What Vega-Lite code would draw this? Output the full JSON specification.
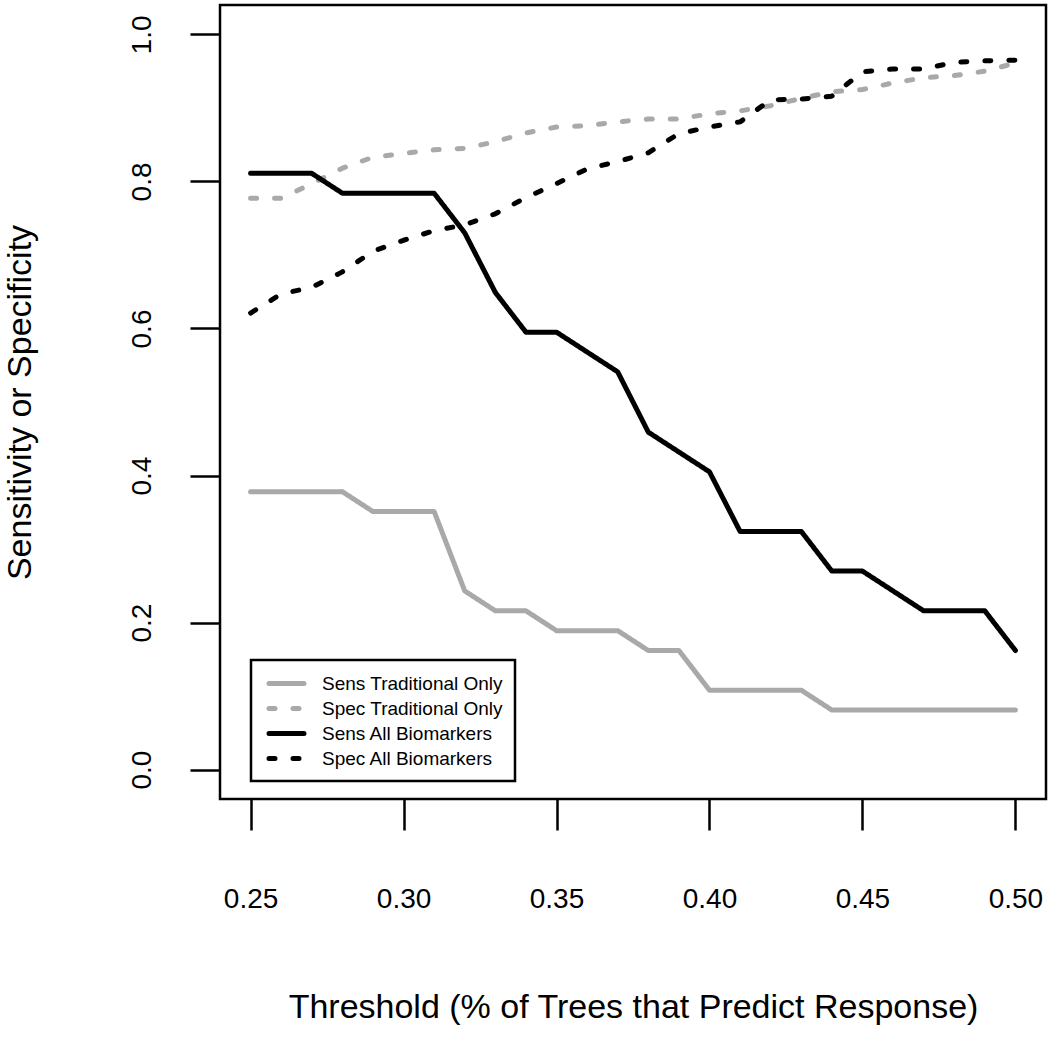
{
  "$schema": "https://vega.github.io/schema/vega-lite/v6.json",
  "width": 826,
  "height": 794,
  "autosize": {"type": "none"},
  "padding": {"left": 220, "top": 5, "right": 4, "bottom": 238},
  "background": "white",
  "datasets": {
    "rows": [
      {"t":0.25,"series":"Sens Traditional Only","value":0.378},
      {"t":0.26,"series":"Sens Traditional Only","value":0.378},
      {"t":0.27,"series":"Sens Traditional Only","value":0.378},
      {"t":0.28,"series":"Sens Traditional Only","value":0.378},
      {"t":0.29,"series":"Sens Traditional Only","value":0.351},
      {"t":0.30,"series":"Sens Traditional Only","value":0.351},
      {"t":0.31,"series":"Sens Traditional Only","value":0.351},
      {"t":0.32,"series":"Sens Traditional Only","value":0.243},
      {"t":0.33,"series":"Sens Traditional Only","value":0.216},
      {"t":0.34,"series":"Sens Traditional Only","value":0.216},
      {"t":0.35,"series":"Sens Traditional Only","value":0.189},
      {"t":0.36,"series":"Sens Traditional Only","value":0.189},
      {"t":0.37,"series":"Sens Traditional Only","value":0.189},
      {"t":0.38,"series":"Sens Traditional Only","value":0.162},
      {"t":0.39,"series":"Sens Traditional Only","value":0.162},
      {"t":0.40,"series":"Sens Traditional Only","value":0.108},
      {"t":0.41,"series":"Sens Traditional Only","value":0.108},
      {"t":0.42,"series":"Sens Traditional Only","value":0.108},
      {"t":0.43,"series":"Sens Traditional Only","value":0.108},
      {"t":0.44,"series":"Sens Traditional Only","value":0.081},
      {"t":0.45,"series":"Sens Traditional Only","value":0.081},
      {"t":0.46,"series":"Sens Traditional Only","value":0.081},
      {"t":0.47,"series":"Sens Traditional Only","value":0.081},
      {"t":0.48,"series":"Sens Traditional Only","value":0.081},
      {"t":0.49,"series":"Sens Traditional Only","value":0.081},
      {"t":0.50,"series":"Sens Traditional Only","value":0.081},

      {"t":0.25,"series":"Spec Traditional Only","value":0.777},
      {"t":0.26,"series":"Spec Traditional Only","value":0.777},
      {"t":0.27,"series":"Spec Traditional Only","value":0.797},
      {"t":0.28,"series":"Spec Traditional Only","value":0.818},
      {"t":0.29,"series":"Spec Traditional Only","value":0.833},
      {"t":0.30,"series":"Spec Traditional Only","value":0.838},
      {"t":0.31,"series":"Spec Traditional Only","value":0.843},
      {"t":0.32,"series":"Spec Traditional Only","value":0.845},
      {"t":0.33,"series":"Spec Traditional Only","value":0.854},
      {"t":0.34,"series":"Spec Traditional Only","value":0.866},
      {"t":0.35,"series":"Spec Traditional Only","value":0.874},
      {"t":0.36,"series":"Spec Traditional Only","value":0.876},
      {"t":0.37,"series":"Spec Traditional Only","value":0.881},
      {"t":0.38,"series":"Spec Traditional Only","value":0.885},
      {"t":0.39,"series":"Spec Traditional Only","value":0.885},
      {"t":0.40,"series":"Spec Traditional Only","value":0.892},
      {"t":0.41,"series":"Spec Traditional Only","value":0.896},
      {"t":0.42,"series":"Spec Traditional Only","value":0.903},
      {"t":0.43,"series":"Spec Traditional Only","value":0.913},
      {"t":0.44,"series":"Spec Traditional Only","value":0.922},
      {"t":0.45,"series":"Spec Traditional Only","value":0.925},
      {"t":0.46,"series":"Spec Traditional Only","value":0.934},
      {"t":0.47,"series":"Spec Traditional Only","value":0.941},
      {"t":0.48,"series":"Spec Traditional Only","value":0.944},
      {"t":0.49,"series":"Spec Traditional Only","value":0.950},
      {"t":0.50,"series":"Spec Traditional Only","value":0.961},

      {"t":0.25,"series":"Sens All Biomarkers","value":0.811},
      {"t":0.26,"series":"Sens All Biomarkers","value":0.811},
      {"t":0.27,"series":"Sens All Biomarkers","value":0.811},
      {"t":0.28,"series":"Sens All Biomarkers","value":0.784},
      {"t":0.29,"series":"Sens All Biomarkers","value":0.784},
      {"t":0.30,"series":"Sens All Biomarkers","value":0.784},
      {"t":0.31,"series":"Sens All Biomarkers","value":0.784},
      {"t":0.32,"series":"Sens All Biomarkers","value":0.730},
      {"t":0.33,"series":"Sens All Biomarkers","value":0.649},
      {"t":0.34,"series":"Sens All Biomarkers","value":0.595},
      {"t":0.35,"series":"Sens All Biomarkers","value":0.595},
      {"t":0.36,"series":"Sens All Biomarkers","value":0.568},
      {"t":0.37,"series":"Sens All Biomarkers","value":0.541},
      {"t":0.38,"series":"Sens All Biomarkers","value":0.459},
      {"t":0.39,"series":"Sens All Biomarkers","value":0.432},
      {"t":0.40,"series":"Sens All Biomarkers","value":0.405},
      {"t":0.41,"series":"Sens All Biomarkers","value":0.324},
      {"t":0.42,"series":"Sens All Biomarkers","value":0.324},
      {"t":0.43,"series":"Sens All Biomarkers","value":0.324},
      {"t":0.44,"series":"Sens All Biomarkers","value":0.270},
      {"t":0.45,"series":"Sens All Biomarkers","value":0.270},
      {"t":0.46,"series":"Sens All Biomarkers","value":0.243},
      {"t":0.47,"series":"Sens All Biomarkers","value":0.216},
      {"t":0.48,"series":"Sens All Biomarkers","value":0.216},
      {"t":0.49,"series":"Sens All Biomarkers","value":0.216},
      {"t":0.50,"series":"Sens All Biomarkers","value":0.162},

      {"t":0.25,"series":"Spec All Biomarkers","value":0.621},
      {"t":0.26,"series":"Spec All Biomarkers","value":0.647},
      {"t":0.27,"series":"Spec All Biomarkers","value":0.656},
      {"t":0.28,"series":"Spec All Biomarkers","value":0.677},
      {"t":0.29,"series":"Spec All Biomarkers","value":0.705},
      {"t":0.30,"series":"Spec All Biomarkers","value":0.720},
      {"t":0.31,"series":"Spec All Biomarkers","value":0.733},
      {"t":0.32,"series":"Spec All Biomarkers","value":0.741},
      {"t":0.33,"series":"Spec All Biomarkers","value":0.756},
      {"t":0.34,"series":"Spec All Biomarkers","value":0.778},
      {"t":0.35,"series":"Spec All Biomarkers","value":0.797},
      {"t":0.36,"series":"Spec All Biomarkers","value":0.817},
      {"t":0.37,"series":"Spec All Biomarkers","value":0.827},
      {"t":0.38,"series":"Spec All Biomarkers","value":0.839},
      {"t":0.39,"series":"Spec All Biomarkers","value":0.865},
      {"t":0.40,"series":"Spec All Biomarkers","value":0.874},
      {"t":0.41,"series":"Spec All Biomarkers","value":0.881},
      {"t":0.42,"series":"Spec All Biomarkers","value":0.911},
      {"t":0.43,"series":"Spec All Biomarkers","value":0.912},
      {"t":0.44,"series":"Spec All Biomarkers","value":0.916},
      {"t":0.45,"series":"Spec All Biomarkers","value":0.949},
      {"t":0.46,"series":"Spec All Biomarkers","value":0.953},
      {"t":0.47,"series":"Spec All Biomarkers","value":0.953},
      {"t":0.48,"series":"Spec All Biomarkers","value":0.962},
      {"t":0.49,"series":"Spec All Biomarkers","value":0.964},
      {"t":0.50,"series":"Spec All Biomarkers","value":0.965}
    ]
  },
  "data": {"name": "rows"},
  "mark": {"type": "line", "strokeWidth": 5, "strokeCap": "round", "strokeJoin": "round"},
  "encoding": {
    "x": {
      "field": "t", "type": "quantitative",
      "scale": {"domain": [0.24, 0.51], "nice": false, "zero": false},
      "axis": {
        "values": [0.25, 0.3, 0.35, 0.4, 0.45, 0.5],
        "format": ".2f",
        "domain": false, "grid": false,
        "tickSize": 31, "tickWidth": 2.5, "tickColor": "black",
        "labelFontSize": 28, "labelFont": "Liberation Sans", "labelColor": "black",
        "labelPadding": 77, "labelBaseline": "alphabetic", "labelFlush": false, "labelOverlap": false,
        "title": "Threshold (% of Trees that Predict Response)",
        "titleFontSize": 34, "titleFont": "Liberation Sans", "titleFontWeight": "normal", "titleColor": "black",
        "titleY": 218, "titleBaseline": "alphabetic"
      }
    },
    "y": {
      "field": "value", "type": "quantitative",
      "scale": {"domain": [-0.04, 1.04], "nice": false, "zero": false},
      "axis": {
        "values": [0, 0.2, 0.4, 0.6, 0.8, 1.0],
        "format": ".1f",
        "domain": false, "grid": false,
        "tickSize": 30, "tickWidth": 2.5, "tickColor": "black",
        "labelFontSize": 28, "labelFont": "Liberation Sans", "labelColor": "black",
        "labelAngle": 270, "labelAlign": "center", "labelBaseline": "alphabetic",
        "labelPadding": 40, "labelFlush": false, "labelOverlap": false,
        "title": "Sensitivity or Specificity",
        "titleFontSize": 34, "titleFont": "Liberation Sans", "titleFontWeight": "normal", "titleColor": "black",
        "titleAngle": 270, "titleX": -190, "titleY": 397, "titleAlign": "center", "titleBaseline": "alphabetic"
      }
    },
    "color": {
      "field": "series", "type": "nominal",
      "scale": {
        "domain": ["Sens Traditional Only", "Spec Traditional Only", "Sens All Biomarkers", "Spec All Biomarkers"],
        "range": ["#a9a9a9", "#a9a9a9", "#000000", "#000000"]
      },
      "legend": {
        "title": null,
        "encode": {
          "symbols": {"update": {"strokeCap": {"value": "round"}}},
          "legend": {"update": {"strokeWidth": {"value": 2.5}}}
        }
      }
    },
    "strokeDash": {
      "field": "series", "type": "nominal",
      "scale": {
        "domain": ["Sens Traditional Only", "Spec Traditional Only", "Sens All Biomarkers", "Spec All Biomarkers"],
        "range": [[1, 0], [6, 18], [1, 0], [6, 18]]
      },
      "legend": {"title": null}
    }
  },
  "config": {
    "view": {"stroke": "black", "strokeWidth": 2.5},
    "legend": {
      "orient": "none",
      "legendX": 31,
      "legendY": 655,
      "padding": 12,
      "strokeColor": "black",
      "fillColor": "white",
      "symbolType": "M-2,0H2",
      "symbolSize": 306,
      "symbolStrokeWidth": 5,
      "symbolOffset": 12,
      "labelFontSize": 19,
      "labelFont": "Liberation Sans",
      "labelColor": "black",
      "labelOffset": 24,
      "labelLimit": 0,
      "rowPadding": 3,
      "cornerRadius": 0
    }
  }
}
